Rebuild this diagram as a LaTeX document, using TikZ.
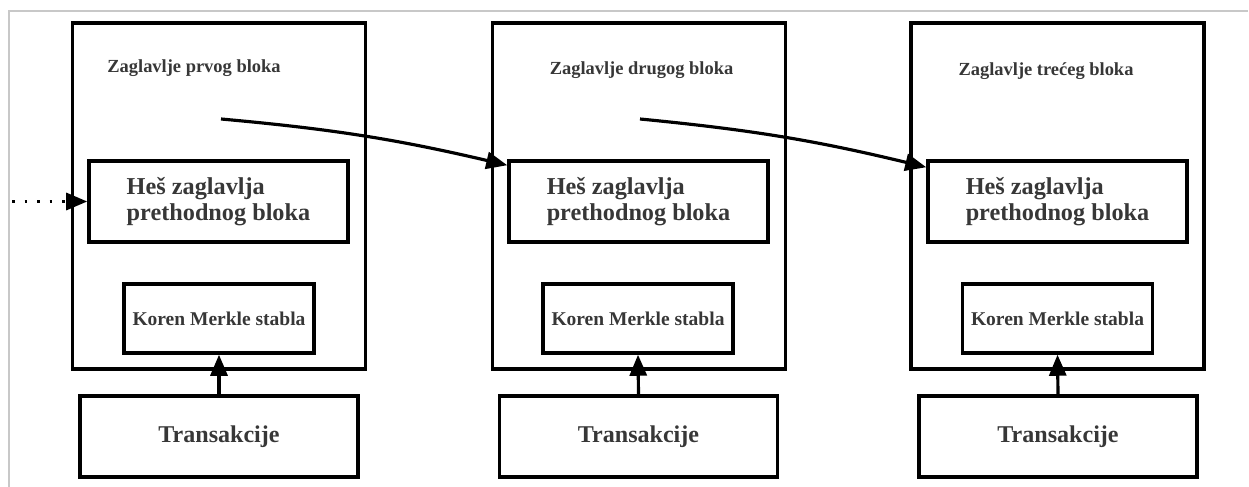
\documentclass[tikz,border=0pt]{standalone}
\usepackage{fontspec}
\setmainfont{Liberation Serif}
\usetikzlibrary{calc,positioning,arrows.meta}
\definecolor{framegray}{RGB}{200,200,200}
\definecolor{textgray}{RGB}{55,55,55}
\tikzset{
  blok/.style={draw, line width=2pt, minimum width=5.86cm, minimum height=6.92cm, inner sep=0pt},
  hesbox/.style={draw, line width=2pt, minimum width=5.18cm, minimum height=1.62cm, inner sep=0pt,
    align=left, text=textgray, font=\bfseries\fontsize{13.8}{14.8}\selectfont},
  korenbox/.style={draw, line width=2pt, minimum width=3.8cm, minimum height=1.38cm, inner sep=0pt,
    text=textgray, font=\bfseries\fontsize{11.1}{13}\selectfont},
  transbox/.style={draw, line width=2pt, minimum width=5.56cm, minimum height=1.62cm, inner sep=0pt,
    text=textgray, font=\bfseries\fontsize{13.7}{15}\selectfont},
  zaglavlje/.style={inner sep=0pt, text=textgray, font=\bfseries\fontsize{10.5}{12}\selectfont},
  veza/.style={line width=1.8pt, -{Triangle[length=0.42cm, width=0.34cm]}}
}

\begin{document}
\begin{tikzpicture}

  \useasboundingbox (0,0) rectangle (24.98,-9.74);
  \draw [framegray, line width=1.2pt] (0.18,-9.74) -- (0.18,-0.22) -- (24.96,-0.22);

  % prvi blok
  \node [blok] (b1) at (4.38,-3.92) {};
  \node [zaglavlje] (z1) at (3.88,-1.36) {Zaglavlje prvog bloka};
  \node [hesbox] (h1) at (4.37,-4.03) {Heš zaglavlja\\prethodnog bloka};
  \node [korenbox] (k1) at (4.38,-6.37) {Koren Merkle stabla};
  \node [transbox] (t1) at (4.38,-8.73) {Transakcije};
  \coordinate (s1) at (4.42,-2.38);

  % drugi blok
  \node [blok] (b2) at (12.78,-3.92) {};
  \node [zaglavlje] (z2) at (12.83,-1.41) {Zaglavlje drugog bloka};
  \node [hesbox] (h2) at (12.77,-4.03) {Heš zaglavlja\\prethodnog bloka};
  \node [korenbox] (k2) at (12.76,-6.37) {Koren Merkle stabla};
  \node [transbox] (t2) at (12.77,-8.73) {Transakcije};
  \coordinate (s2) at (12.80,-2.38);

  % treci blok
  \node [blok] (b3) at (21.15,-3.92) {};
  \node [zaglavlje] (z3) at (20.92,-1.42) {Zaglavlje trećeg bloka};
  \node [hesbox] (h3) at (21.15,-4.03) {Heš zaglavlja\\prethodnog bloka};
  \node [korenbox] (k3) at (21.15,-6.37) {Koren Merkle stabla};
  \node [transbox] (t3) at (21.16,-8.73) {Transakcije};

  % veze
  \coordinate (d0) at (0.24,-4.03);
  \draw [veza, dash pattern=on 0.05cm off 0.2cm] (d0) -- (h1.west);
  \draw [veza] (s1) to[bend left=4] ($(h2.north west)+(0,-0.12)$);
  \draw [veza] (s2) to[bend left=4] ($(h3.north west)+(0,-0.16)$);
  \draw [veza] (t1.north) -- (k1.south);
  \draw [veza] (t2.north) -- (k2.south);
  \draw [veza] (t3.north) -- (k3.south);
\end{tikzpicture}
\end{document}
